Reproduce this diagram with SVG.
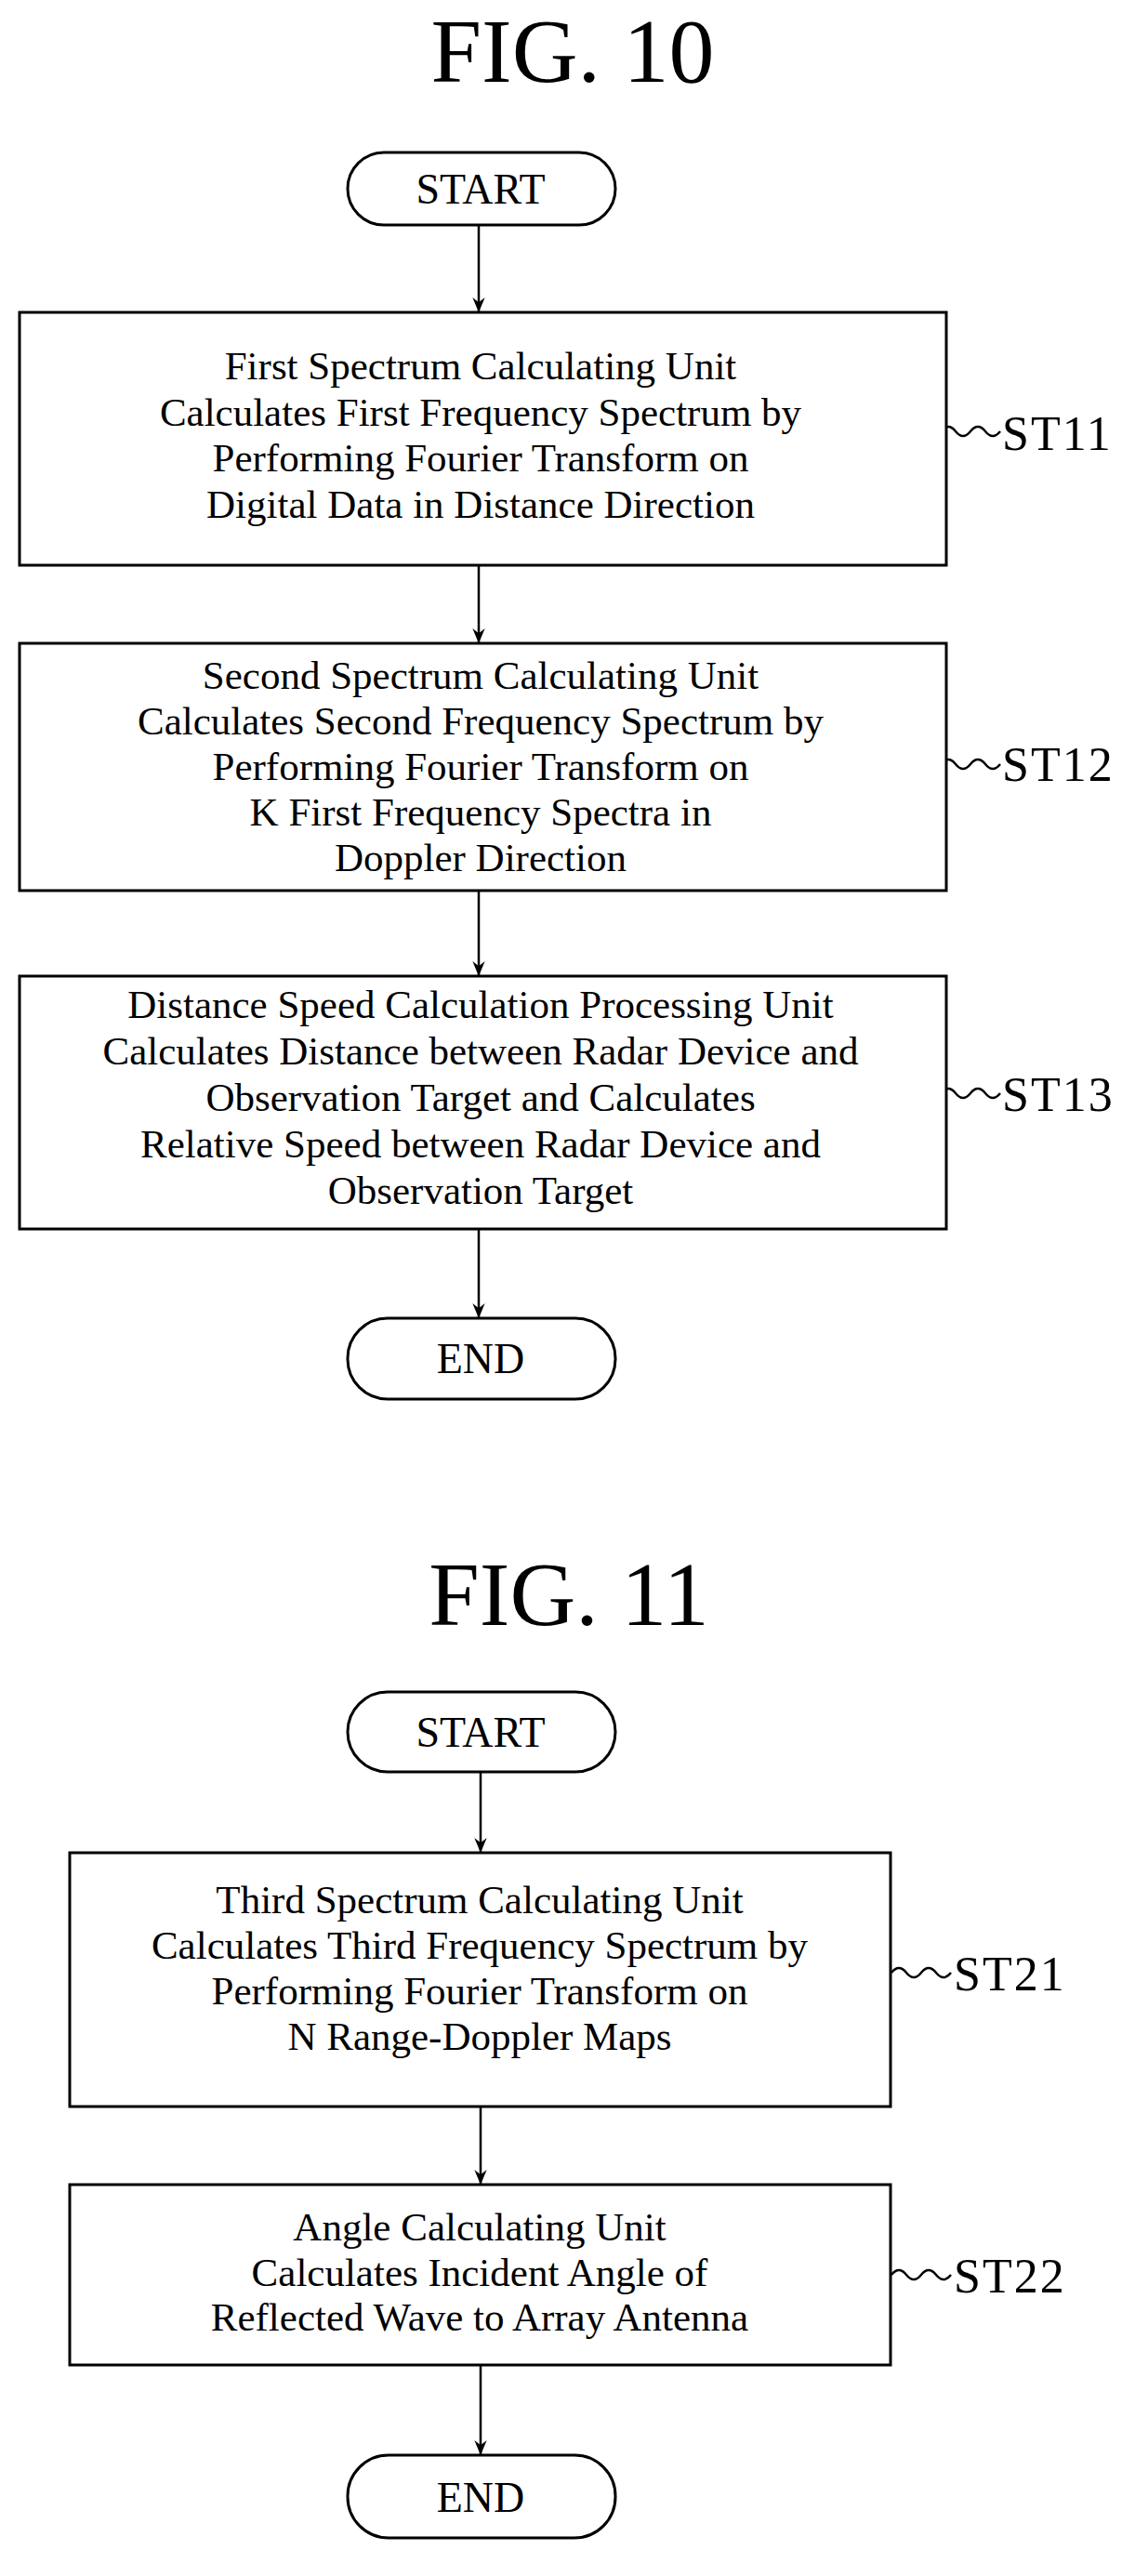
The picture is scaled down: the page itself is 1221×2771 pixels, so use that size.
<svg xmlns="http://www.w3.org/2000/svg" width="1221" height="2771" viewBox="0 0 1221 2771">
<style>
text{font-family:"Liberation Serif","Times New Roman",serif;fill:#000}
.t{font-size:43px;text-anchor:middle}
.fig{font-size:98px;text-anchor:middle}
.term{font-size:46px;text-anchor:middle}
.lbl{font-size:52px;letter-spacing:2px}
.b{fill:#fff;stroke:#000;stroke-width:3}
.c{fill:none;stroke:#000;stroke-width:2.5}
</style>
<defs><marker id="a" viewBox="0 0 12 12" refX="12" refY="6" markerWidth="16" markerHeight="16" markerUnits="userSpaceOnUse" orient="auto"><path d="M0,1 L12,6 L0,11 L4,6 Z" fill="#000"/></marker></defs>
<rect width="1221" height="2771" fill="#fff"/>
<text class="fig" x="616" y="88">FIG. 10</text>
<text class="fig" x="612" y="1748">FIG. 11</text>
<g id="connectors" class="c">
<line x1="515" y1="242" x2="515" y2="336" marker-end="url(#a)"/>
<line x1="515" y1="608" x2="515" y2="692" marker-end="url(#a)"/>
<line x1="515" y1="958" x2="515" y2="1050" marker-end="url(#a)"/>
<line x1="515" y1="1322" x2="515" y2="1418" marker-end="url(#a)"/>
<line x1="517" y1="1906" x2="517" y2="1993" marker-end="url(#a)"/>
<line x1="517" y1="2266" x2="517" y2="2350" marker-end="url(#a)"/>
<line x1="517" y1="2544" x2="517" y2="2641" marker-end="url(#a)"/>
<path d="M1012,464 q8,-10 16,0 t16,0 t16,0 t16,0"/>
<path d="M1012,822 q8,-10 16,0 t16,0 t16,0 t16,0"/>
<path d="M1012,1176 q8,-10 16,0 t16,0 t16,0 t16,0"/>
<path d="M959,2122 q8,-10 16,0 t16,0 t16,0 t16,0"/>
<path d="M959,2447 q8,-10 16,0 t16,0 t16,0 t16,0"/>
</g>
<g id="start1"><rect class="b" x="374" y="164" width="288" height="78" rx="39"/><text class="term" x="517" y="219">START</text></g>
<g id="st11"><rect class="b" x="21" y="336" width="997" height="272"/>
<text class="t" x="517" y="408">First Spectrum Calculating Unit</text>
<text class="t" x="517" y="458">Calculates First Frequency Spectrum by</text>
<text class="t" x="517" y="507">Performing Fourier Transform on</text>
<text class="t" x="517" y="557">Digital Data in Distance Direction</text>
<text class="lbl" x="1078" y="484">ST11</text></g>
<g id="st12"><rect class="b" x="21" y="692" width="997" height="266"/>
<text class="t" x="517" y="741">Second Spectrum Calculating Unit</text>
<text class="t" x="517" y="790">Calculates Second Frequency Spectrum by</text>
<text class="t" x="517" y="839">Performing Fourier Transform on</text>
<text class="t" x="517" y="888">K First Frequency Spectra in</text>
<text class="t" x="517" y="937">Doppler Direction</text>
<text class="lbl" x="1078" y="840">ST12</text></g>
<g id="st13"><rect class="b" x="21" y="1050" width="997" height="272"/>
<text class="t" x="517" y="1095">Distance Speed Calculation Processing Unit</text>
<text class="t" x="517" y="1145">Calculates Distance between Radar Device and</text>
<text class="t" x="517" y="1195">Observation Target and Calculates</text>
<text class="t" x="517" y="1245">Relative Speed between Radar Device and</text>
<text class="t" x="517" y="1295">Observation Target</text>
<text class="lbl" x="1078" y="1195">ST13</text></g>
<g id="end1"><rect class="b" x="374" y="1418" width="288" height="87" rx="43"/><text class="term" x="517" y="1477">END</text></g>
<g id="start2"><rect class="b" x="374" y="1820" width="288" height="86" rx="43"/><text class="term" x="517" y="1879">START</text></g>
<g id="st21"><rect class="b" x="75" y="1993" width="883" height="273"/>
<text class="t" x="516" y="2058">Third Spectrum Calculating Unit</text>
<text class="t" x="516" y="2107">Calculates Third Frequency Spectrum by</text>
<text class="t" x="516" y="2156">Performing Fourier Transform on</text>
<text class="t" x="516" y="2205">N Range-Doppler Maps</text>
<text class="lbl" x="1026" y="2141">ST21</text></g>
<g id="st22"><rect class="b" x="75" y="2350" width="883" height="194"/>
<text class="t" x="516" y="2410">Angle Calculating Unit</text>
<text class="t" x="516" y="2459">Calculates Incident Angle of</text>
<text class="t" x="516" y="2507">Reflected Wave to Array Antenna</text>
<text class="lbl" x="1026" y="2466">ST22</text></g>
<g id="end2"><rect class="b" x="374" y="2641" width="288" height="89" rx="44"/><text class="term" x="517" y="2702">END</text></g>
</svg>
